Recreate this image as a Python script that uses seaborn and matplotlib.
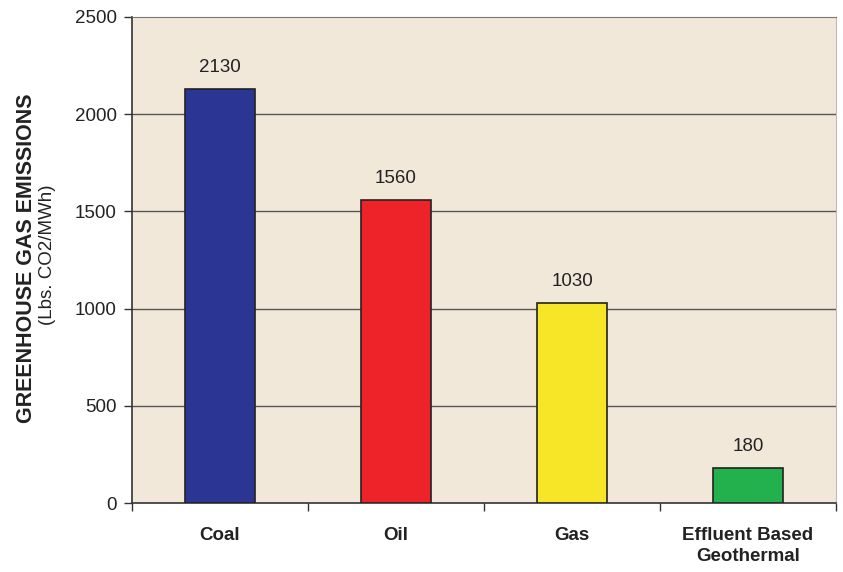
import matplotlib
matplotlib.use("Agg")
import matplotlib.pyplot as plt
import seaborn as sns
import pandas as pd

# Data
categories = ["Coal", "Oil", "Gas", "Effluent Based\nGeothermal"]
emissions = [2130, 1560, 1030, 180]
bar_colors = ["#2B3594", "#EE2229", "#F7E627", "#23B14D"]
y_ticks = [0, 500, 1000, 1500, 2000, 2500]

sns.set_style("ticks")
plt.rcParams["font.family"] = ["Liberation Sans", "DejaVu Sans"]

df = pd.DataFrame({"source": categories, "lbs": emissions})

fig = plt.figure(figsize=(8.43, 5.72), dpi=100)
ax = fig.add_axes([0.1566, 0.1206, 0.8351, 0.8497])
ax.set_facecolor("#F2E8DA")

sns.barplot(data=df, x="source", y="lbs", hue="source", palette=bar_colors,
            legend=False, width=0.4, edgecolor="#222222", linewidth=1.2,
            saturation=1, ax=ax, zorder=3)

# value labels above bars
for i, v in enumerate(emissions):
    ax.text(i, v + 65, str(v), ha="center", va="bottom", fontsize=13.5, color="#222222")

ax.set_ylim(0, 2500)
ax.set_xlim(-0.5, len(categories) - 0.5)
ax.set_yticks(y_ticks)
ax.set_yticklabels([str(t) for t in y_ticks], fontsize=13.5, color="#222222")
for t in y_ticks[1:-1]:
    ax.axhline(t, color="#555555", linewidth=1.0, zorder=1)

# ticks sit on the category boundaries, labels go in between
ax.set_xticks([i - 0.5 for i in range(len(categories) + 1)])
ax.set_xticklabels([])
ax.tick_params(axis="x", bottom=True, direction="out", length=6, width=1, color="#333333")
ax.tick_params(axis="y", left=True, direction="out", length=6, width=1, color="#333333", pad=5)
for i, c in enumerate(categories):
    ax.text(i, -122, c, ha="center", va="top", fontsize=13.5, fontweight="bold",
            color="#222222", linespacing=1.35)

ax.set_xlabel("")
ax.set_ylabel("")

for side in ["left", "bottom"]:
    ax.spines[side].set_color("#333333")
    ax.spines[side].set_linewidth(1.2)
ax.spines["top"].set_visible(True)
ax.spines["right"].set_visible(True)
ax.spines["top"].set_color("#777777")
ax.spines["right"].set_color("#bbbbbb")

fig.text(0.031, 0.549, "GREENHOUSE GAS EMISSIONS", rotation=90, ha="center", va="center",
         fontsize=15.5, fontweight="bold", color="#222222")
fig.text(0.0565, 0.555, "(Lbs. CO2/MWh)", rotation=90, ha="center", va="center",
         fontsize=13.5, color="#222222")

fig.savefig("out.png", dpi=100)
